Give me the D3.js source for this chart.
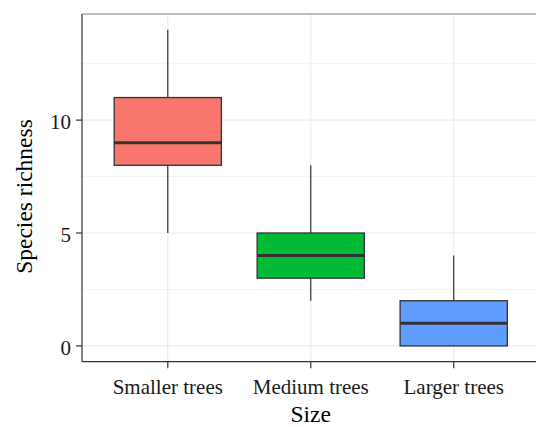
<!DOCTYPE html>
<html><head><meta charset="utf-8">
<script src="https://cdn.jsdelivr.net/npm/d3@7"></script>
<style>body{margin:0;background:#fff}svg{display:block}</style>
</head><body>
<script>
const categories = ["Smaller trees", "Medium trees", "Larger trees"];
const whiskerLow = [5, 2, 0];
const q1 = [8, 3, 0];
const median = [9, 4, 1];
const q3 = [11, 5, 2];
const whiskerHigh = [14, 8, 4];
const fills = ["#F8766D", "#00BA38", "#619CFF"];
const yTicks = [0, 5, 10];
const yMinor = [2.5, 7.5, 12.5];
const xTitle = "Size";
const yTitle = "Species richness";

const W = 536, H = 427;
const pL = 82, pT = 14, pR = 539.5, pB = 361.7;
const svg = d3.select("body").append("svg").attr("width", W).attr("height", H);
const font = "'Liberation Serif', 'Times New Roman', serif";

const x = d3.scalePoint().domain(categories).range([pL, pR]).padding(0.6);
const step = x.step();
const y = d3.scaleLinear().domain([-0.7, 14.7]).range([pB, pT]);

// minor grid
svg.selectAll(".minor").data(yMinor).enter().append("line")
  .attr("x1", pL).attr("x2", pR).attr("y1", d => y(d)).attr("y2", d => y(d))
  .attr("stroke", "#ebebeb").attr("stroke-width", 0.6);
// major grid
svg.selectAll(".major").data(yTicks).enter().append("line")
  .attr("x1", pL).attr("x2", pR).attr("y1", d => y(d)).attr("y2", d => y(d))
  .attr("stroke", "#ebebeb").attr("stroke-width", 1.1);
svg.selectAll(".vmajor").data(categories).enter().append("line")
  .attr("x1", d => x(d)).attr("x2", d => x(d)).attr("y1", pT).attr("y2", pB)
  .attr("stroke", "#ebebeb").attr("stroke-width", 1.1);

const bw = step * 0.75;
const g = svg.selectAll(".box").data(categories).enter().append("g");
g.append("line").attr("x1", d => x(d)).attr("x2", d => x(d))
  .attr("y1", (d, i) => y(whiskerHigh[i])).attr("y2", (d, i) => y(q3[i]))
  .attr("stroke", "#333").attr("stroke-width", 1.2);
g.append("line").attr("x1", d => x(d)).attr("x2", d => x(d))
  .attr("y1", (d, i) => y(q1[i])).attr("y2", (d, i) => y(whiskerLow[i]))
  .attr("stroke", "#333").attr("stroke-width", 1.2);
g.append("rect").attr("x", d => x(d) - bw / 2).attr("width", bw)
  .attr("y", (d, i) => y(q3[i])).attr("height", (d, i) => y(q1[i]) - y(q3[i]))
  .attr("fill", (d, i) => fills[i]).attr("stroke", "#333").attr("stroke-width", 1.3);
g.append("line").attr("x1", d => x(d) - bw / 2).attr("x2", d => x(d) + bw / 2)
  .attr("y1", (d, i) => y(median[i])).attr("y2", (d, i) => y(median[i]))
  .attr("stroke", "#333").attr("stroke-width", 3);

// panel border top (grey)
svg.append("line").attr("x1", pL).attr("x2", pR).attr("y1", pT).attr("y2", pT)
  .attr("stroke", "#7f7f7f").attr("stroke-width", 1);
// axis lines
svg.append("line").attr("x1", pL).attr("x2", pL).attr("y1", pT).attr("y2", pB)
  .attr("stroke", "#333").attr("stroke-width", 1.2);
svg.append("line").attr("x1", pL).attr("x2", pR).attr("y1", pB).attr("y2", pB)
  .attr("stroke", "#333").attr("stroke-width", 1.2);

// y ticks
svg.selectAll(".yt").data(yTicks).enter().append("line")
  .attr("x1", pL - 6).attr("x2", pL).attr("y1", d => y(d)).attr("y2", d => y(d))
  .attr("stroke", "#333").attr("stroke-width", 1.2);
svg.selectAll(".yl").data(yTicks).enter().append("text")
  .attr("x", pL - 11).attr("y", d => y(d)).attr("dy", "0.42em").attr("text-anchor", "end")
  .attr("font-family", font).attr("font-size", 21).attr("fill", "#1a1a1a").text(d => d);
// x ticks
svg.selectAll(".xt").data(categories).enter().append("line")
  .attr("x1", d => x(d)).attr("x2", d => x(d)).attr("y1", pB).attr("y2", pB + 6.5)
  .attr("stroke", "#333").attr("stroke-width", 1.2);
svg.selectAll(".xl").data(categories).enter().append("text")
  .attr("x", d => x(d)).attr("y", 394).attr("text-anchor", "middle")
  .attr("font-family", font).attr("font-size", 21).attr("fill", "#1a1a1a").text(d => d);
// titles
svg.append("text").attr("x", (pL + pR) / 2).attr("y", 422).attr("text-anchor", "middle")
  .attr("font-family", font).attr("font-size", 23.5).attr("fill", "#000").text(xTitle);
svg.append("text").attr("transform", "translate(32,196.5) rotate(-90)")
  .attr("text-anchor", "middle").attr("font-family", font).attr("font-size", 23.5).attr("fill", "#000").text(yTitle);
</script>
</body></html>
